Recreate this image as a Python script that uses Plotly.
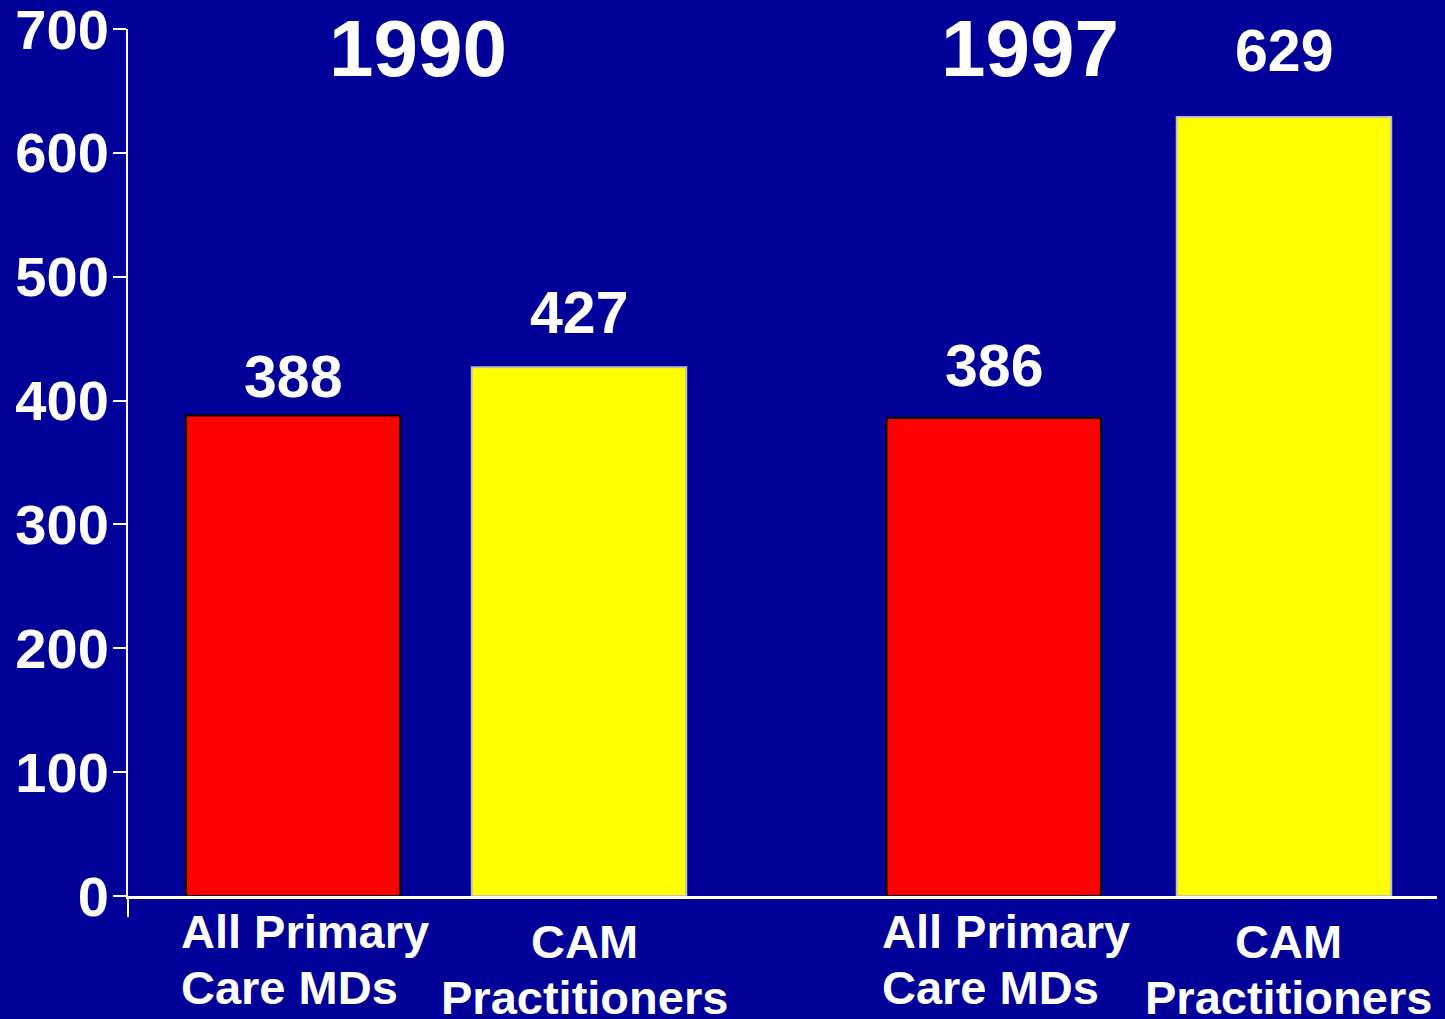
import plotly.graph_objects as go

# ---- data ----
groups = ["1990", "1997"]
categories = ["All Primary<br>Care MDs", "CAM<br>Practitioners",
              "All Primary<br>Care MDs", "CAM<br>Practitioners"]
values = [388, 427, 386, 629]
y_ticks = [0, 100, 200, 300, 400, 500, 600, 700]

# ---- layout helpers (positions / styles) ----
x_pos = [0, 1, 2.45, 3.465]
bar_colors = ["#FF0000", "#FFFF00", "#FF0000", "#FFFF00"]
bar_lines = ["#000000", "#C0C0C0", "#000000", "#C0C0C0"]
label_shift = [38, 54, 52, 66]
group_x = [0.437, 2.577]
BG = "#000099"
FONT = "Liberation Sans, Arial, sans-serif"

fig = go.Figure()
fig.add_trace(go.Bar(
    x=x_pos, y=values, width=0.75,
    marker=dict(color=bar_colors, line=dict(color=bar_lines, width=2)),
    hoverinfo="skip", showlegend=False,
))

annotations = []
for xp, v, s in zip(x_pos, values, label_shift):
    annotations.append(dict(
        x=xp, y=v, xref="x", yref="y", text=f"<b>{v}</b>", showarrow=False,
        yanchor="middle", xanchor="center", yshift=s,
        font=dict(family=FONT, size=59, color="white")))

for gx, g in zip(group_x, groups):
    annotations.append(dict(
        x=gx, y=684, xref="x", yref="y", text=f"<b>{g}</b>", showarrow=False,
        yanchor="middle", xanchor="center",
        font=dict(family=FONT, size=80, color="white")))

for i, (xp, cat) in enumerate(zip(x_pos, categories)):
    lines = cat.split("<br>")
    is_md = lines[0].startswith("All")
    for j, ln in enumerate(lines):
        annotations.append(dict(
            x=xp, y=0, xref="x", yref="paper", text=f"<b>{ln}</b>", showarrow=False,
            yanchor="top",
            xanchor="left" if is_md else "center",
            xshift=-114 if is_md else 5,
            yshift=(-7 if is_md else -17) - 56 * j,
            font=dict(family=FONT, size=47, color="white")))

fig.update_layout(
    width=1445, height=1019,
    margin=dict(l=128, r=8, t=29, b=123, autoexpand=False),
    paper_bgcolor=BG, plot_bgcolor=BG,
    annotations=annotations,
    xaxis=dict(range=[-0.577, 4.0], showgrid=False, zeroline=False,
               showticklabels=False, ticks="", showline=True,
               linecolor="white", linewidth=3, fixedrange=True, automargin=False),
    yaxis=dict(range=[0, 700], tickvals=y_ticks, showgrid=False, zeroline=False,
               showline=True, linecolor="white", linewidth=2,
               ticks="outside", ticklen=13, tickwidth=2, tickcolor="white",
               ticklabelstandoff=-7, ticklabeloverflow="allow", automargin=False,
               tickfont=dict(family=FONT, size=56, color="white", weight="bold"),
               fixedrange=True),
    shapes=[dict(type="line", xref="paper", yref="paper", x0=0, x1=0,
                 ysizemode="pixel", yanchor=0, y0=0, y1=-21,
                 line=dict(color="white", width=2))],
)

fig.write_html("out.html", config={"displayModeBar": False},
               post_script="document.body.style.margin='0';document.body.style.overflow='hidden';")
